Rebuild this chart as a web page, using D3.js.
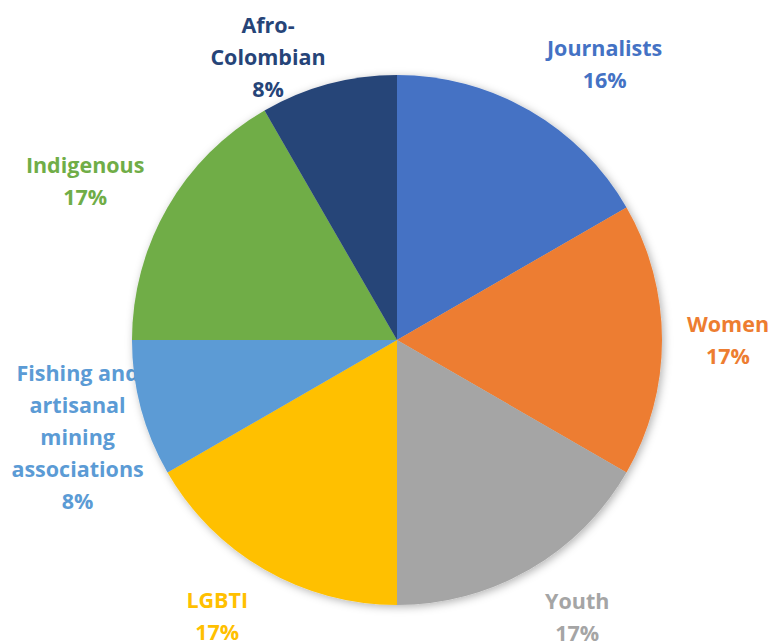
<!DOCTYPE html>
<html>
<head>
<meta charset="utf-8">
<script src="https://cdn.jsdelivr.net/npm/d3@7"></script>
<style>
  html, body { margin: 0; padding: 0; background: #fff; }
  svg { display: block; }
</style>
</head>
<body>
<svg id="svg"></svg>
<script>
// data
const categories = ["Journalists", "Women", "Youth", "LGBTI", "Fishing and artisanal mining associations", "Indigenous", "Afro-Colombian"];
const values = [2, 2, 2, 2, 1, 2, 1];
const pctLabels = ["16%", "17%", "17%", "17%", "8%", "17%", "8%"];
const colors = ["#4472C4", "#ED7D31", "#A5A5A5", "#FFC000", "#5B9BD5", "#70AD47", "#264478"];

// label text lines (as wrapped in the chart)
const labelLines = [
  ["Journalists"], ["Women"], ["Youth"], ["LGBTI"],
  ["Fishing and", "artisanal", "mining", "associations"],
  ["Indigenous"], ["Afro-", "Colombian"]
];
// label placement: angle (deg, clockwise from top) and distance from centre
const labelAngle = [37, 90, 147, 213, 253, 297, 335.5];
const labelDist = [345, 331, 331, 330, 334, 350, 311];

document.addEventListener('DOMContentLoaded', () => {
  const W = 775, H = 644;
  const cx = 397, cy = 340, R = 265;
  const lineH = 32;

  const svg = d3.select("#svg").attr("width", W).attr("height", H);

  const defs = svg.append("defs");
  const f = defs.append("filter").attr("id", "shadow")
    .attr("x", "-20%").attr("y", "-20%").attr("width", "140%").attr("height", "140%");
  f.append("feDropShadow").attr("dx", 2).attr("dy", 2)
    .attr("stdDeviation", 4).attr("flood-color", "#000").attr("flood-opacity", 0.3);

  const pie = d3.pie().sort(null).value(d => d)(values);
  const arc = d3.arc().innerRadius(0).outerRadius(R);

  // labels first (pie sits on top of them)
  const lab = svg.append("g")
    .style("font-family", "'Open Sans', Lato, sans-serif")
    .style("font-weight", "700")
    .style("font-size", "21.5px");

  categories.forEach((c, i) => {
    const a = labelAngle[i] * Math.PI / 180;
    const x = cx + labelDist[i] * Math.sin(a);
    const y = cy - labelDist[i] * Math.cos(a);
    const lines = labelLines[i].concat([pctLabels[i]]);
    const y0 = y - (lines.length - 1) * lineH / 2;
    const t = lab.append("text")
      .attr("text-anchor", "middle")
      .attr("fill", colors[i]);
    lines.forEach((l, j) => {
      t.append("tspan")
        .attr("x", x)
        .attr("y", y0 + j * lineH)
        .attr("dy", "0.35em")
        .text(l);
    });
  });

  const g = svg.append("g")
    .attr("transform", `translate(${cx},${cy})`)
    .attr("filter", "url(#shadow)");

  g.selectAll("path")
    .data(pie)
    .join("path")
    .attr("d", arc)
    .attr("fill", (d, i) => colors[i]);
});
</script>
</body>
</html>
